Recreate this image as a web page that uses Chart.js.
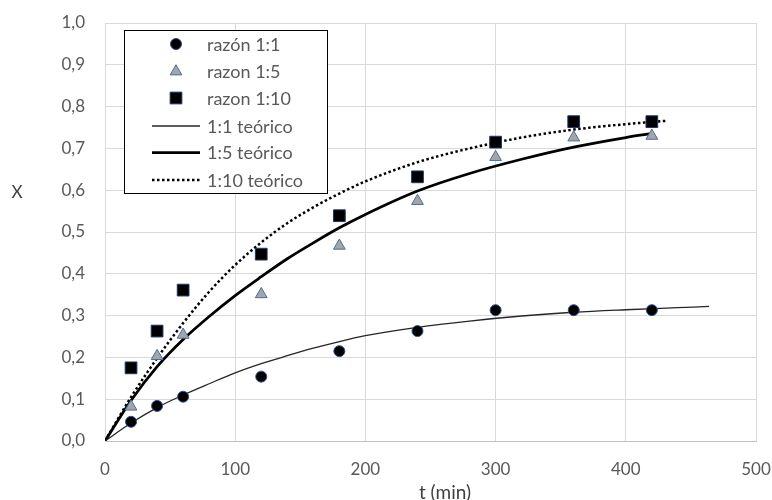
<!DOCTYPE html>
<html>
<head>
<meta charset="utf-8">
<script src="https://cdn.jsdelivr.net/npm/chart.js@4/dist/chart.umd.min.js"></script>
<style>
  html, body { margin: 0; padding: 0; background: #ffffff; }
  #wrap { width: 772px; height: 500px; position: relative; }
</style>
</head>
<body>
<div id="wrap"><canvas id="c" width="772" height="500"></canvas></div>
<script>
// ---- data ----
const tExp  = [20, 40, 60, 120, 180, 240, 300, 360, 420];
const x11   = [0.046, 0.084, 0.106, 0.154, 0.215, 0.263, 0.313, 0.313, 0.313];
const x15   = [0.082, 0.203, 0.254, 0.351, 0.467, 0.574, 0.679, 0.726, 0.730];
const x110  = [0.175, 0.263, 0.361, 0.447, 0.539, 0.632, 0.715, 0.764, 0.764];

const tTh11  = [0, 20, 40, 60, 80, 100, 120, 140, 160, 180, 200, 240, 280, 320, 360, 400, 440, 464];
const xTh11  = [0, 0.043, 0.080, 0.110, 0.137, 0.163, 0.185, 0.204, 0.222, 0.238, 0.252, 0.272, 0.287, 0.299, 0.308, 0.314, 0.319, 0.322];
const tTh15  = [0, 20, 40, 60, 80, 100, 120, 140, 160, 180, 200, 240, 280, 320, 360, 400, 421];
const xTh15  = [0, 0.097, 0.178, 0.243, 0.298, 0.348, 0.393, 0.436, 0.474, 0.510, 0.542, 0.598, 0.640, 0.674, 0.703, 0.726, 0.736];
const tTh110 = [0, 20, 40, 60, 80, 100, 120, 140, 160, 180, 200, 240, 280, 320, 360, 400, 431];
const xTh110 = [0, 0.105, 0.198, 0.282, 0.357, 0.421, 0.475, 0.521, 0.559, 0.592, 0.621, 0.667, 0.700, 0.726, 0.745, 0.758, 0.766];

const seriesLabels = ['razón 1:1', 'razon 1:5', 'razon 1:10', '1:1 teórico', '1:5 teórico', '1:10 teórico'];
const xTitle = 't (min)';
const yTitle = 'X';

const pts = (xs, ys) => xs.map((x, i) => ({ x: x, y: ys[i] }));
const FONT = 'Lato';
const TXT = '#595959';

const overlay = {
  id: 'overlay',
  afterDraw(chart) {
    const ctx = chart.ctx;
    ctx.save();
    // axis titles
    ctx.fillStyle = '#404040';
    ctx.textAlign = 'center';
    ctx.textBaseline = 'middle';
    ctx.font = '17px ' + FONT;
    ctx.fillText(yTitle, 17, 193);
    ctx.font = '19px ' + FONT;
    ctx.fillText(xTitle, 445, 493);

    // legend box
    const bx = 124.5, by = 30.5, bw = 203, bh = 163;
    ctx.fillStyle = '#ffffff';
    ctx.fillRect(bx, by, bw, bh);
    ctx.strokeStyle = '#000000';
    ctx.lineWidth = 1;
    ctx.strokeRect(bx, by, bw, bh);

    const rows = [44, 71.5, 98, 126, 152.5, 180];
    const mx = 176, lx0 = 152, lx1 = 200, tx = 207;
    chart.data.datasets.forEach((ds, i) => {
      const y = rows[i];
      if (!ds.showLine) {
        ctx.fillStyle = ds.pointBackgroundColor;
        ctx.strokeStyle = ds.pointBorderColor;
        ctx.lineWidth = ds.pointBorderWidth;
        ctx.beginPath();
        if (ds.pointStyle === 'circle') {
          ctx.arc(mx, y, ds.pointRadius, 0, Math.PI * 2);
        } else if (ds.pointStyle === 'triangle') {
          const r = ds.pointRadius;
          ctx.moveTo(mx, y - r);
          ctx.lineTo(mx + r * Math.sin(2 * Math.PI / 3), y - r * Math.cos(2 * Math.PI / 3));
          ctx.lineTo(mx + r * Math.sin(4 * Math.PI / 3), y - r * Math.cos(4 * Math.PI / 3));
          ctx.closePath();
        } else {
          const s = Math.SQRT1_2 * ds.pointRadius;
          ctx.rect(mx - s, y - s, 2 * s, 2 * s);
        }
        ctx.fill();
        ctx.stroke();
      } else {
        ctx.strokeStyle = ds.borderColor;
        ctx.lineWidth = ds.borderWidth;
        ctx.setLineDash(ds.borderDash || []);
        ctx.beginPath();
        ctx.moveTo(lx0, y);
        ctx.lineTo(lx1, y);
        ctx.stroke();
        ctx.setLineDash([]);
      }
      ctx.fillStyle = TXT;
      ctx.font = '18px ' + FONT;
      ctx.textAlign = 'left';
      ctx.textBaseline = 'middle';
      ctx.fillText(ds.label, tx, y + 1);
    });
    ctx.restore();
  }
};

const markerBase = { showLine: false, pointBorderWidth: 1, pointHoverRadius: 0 };

new Chart(document.getElementById('c'), {
  type: 'scatter',
  data: {
    datasets: [
      Object.assign({}, markerBase, {
        label: seriesLabels[0], data: pts(tExp, x11),
        pointStyle: 'circle', pointRadius: 5.5,
        pointBackgroundColor: '#000000', pointBorderColor: '#2f4f8f'
      }),
      Object.assign({}, markerBase, {
        label: seriesLabels[1], data: pts(tExp, x15),
        pointStyle: 'triangle', pointRadius: 6.8,
        pointBackgroundColor: '#a5a5a5', pointBorderColor: '#4a6fa5'
      }),
      Object.assign({}, markerBase, {
        label: seriesLabels[2], data: pts(tExp, x110),
        pointStyle: 'rect', pointRadius: 8.3,
        pointBackgroundColor: '#000000', pointBorderColor: '#203864'
      }),
      {
        label: seriesLabels[3], data: pts(tTh11, xTh11), showLine: true,
        borderColor: '#262626', borderWidth: 1.3, pointRadius: 0,
        cubicInterpolationMode: 'monotone', fill: false
      },
      {
        label: seriesLabels[4], data: pts(tTh15, xTh15), showLine: true,
        borderColor: '#000000', borderWidth: 2.75, pointRadius: 0,
        cubicInterpolationMode: 'monotone', fill: false
      },
      {
        label: seriesLabels[5], data: pts(tTh110, xTh110), showLine: true,
        borderColor: '#000000', borderWidth: 2.5, borderDash: [2.5, 2.5], pointRadius: 0,
        cubicInterpolationMode: 'monotone', fill: false
      }
    ]
  },
  options: {
    responsive: false,
    animation: false,
    devicePixelRatio: 1,
    layout: { padding: { top: 23, right: 16, bottom: 0, left: 0 } },
    plugins: { legend: { display: false }, tooltip: { enabled: false } },
    scales: {
      x: {
        type: 'linear', min: 0, max: 500,
        ticks: { stepSize: 100, padding: 18, color: TXT, font: { family: FONT, size: 17 } },
        grid: { color: '#d9d9d9', drawTicks: false, lineWidth: 1 },
        border: { color: '#bfbfbf', width: 1 },
        afterFit(scale) { scale.height = 59; scale.paddingLeft = 0; scale.paddingRight = 0; }
      },
      y: {
        type: 'linear', min: 0, max: 1,
        ticks: {
          stepSize: 0.1, padding: 20, color: TXT, font: { family: FONT, size: 17 },
          callback: (v) => v.toFixed(1).replace('.', ',')
        },
        grid: { color: '#d9d9d9', drawTicks: false, lineWidth: 1 },
        border: { color: '#d9d9d9', width: 1 },
        afterFit(scale) { scale.width = 105; scale.paddingTop = 0; scale.paddingBottom = 0; }
      }
    }
  },
  plugins: [overlay]
});
</script>
</body>
</html>
